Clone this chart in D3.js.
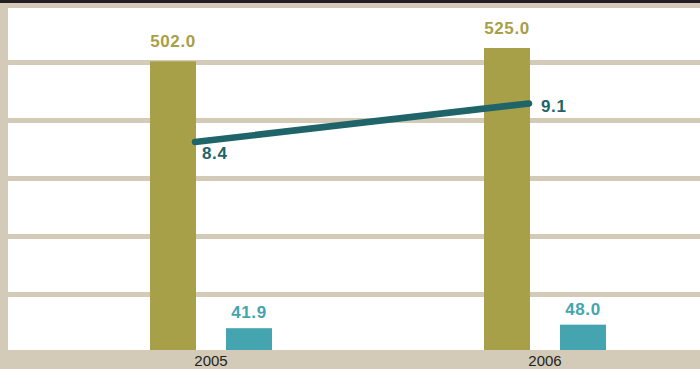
<!DOCTYPE html>
<html><head><meta charset="utf-8">
<script src="https://cdn.jsdelivr.net/npm/d3@7/dist/d3.min.js"></script>
<style>html,body{margin:0;padding:0;background:#d3cab7;}svg{display:block;}</style>
</head><body>
<script>
const years = ["2005", "2006"];
const seriesA = [502.0, 525.0];   // olive bars
const seriesB = [41.9, 48.0];     // teal bars
const lineValues = [8.4, 9.1];    // dark teal line (secondary scale)
const gridTicks = [100, 200, 300, 400, 500];

const W = 700, H = 369;
const plot = {left: 8, right: 700, top: 8, bottom: 350};
const svg = d3.select("body").append("svg").attr("width", W).attr("height", H);

svg.append("rect").attr("width", W).attr("height", H).attr("fill", "#d3cab7");
svg.append("rect").attr("x", plot.left).attr("y", plot.top)
  .attr("width", plot.right - plot.left).attr("height", plot.bottom - plot.top).attr("fill", "#ffffff");

const y = d3.scaleLinear().domain([0, 600]).range([352.5, 4.5]);
const y2 = d3.scaleLinear().domain([4.57, 10.9]).range([352.5, 4.5]);
const x = d3.scalePoint().domain(years).range([211, 545]);
const xs = d3.scaleBand().domain(["a", "b"]).range([-61, 61]).paddingInner(0.3947);

// gridlines
svg.append("g").selectAll("line").data(gridTicks).join("line")
  .attr("x1", plot.left).attr("x2", plot.right)
  .attr("y1", d => y(d)).attr("y2", d => y(d))
  .attr("stroke", "#d3cab7").attr("stroke-width", 5);

const bw = xs.bandwidth();
const gBars = svg.append("g");
const labelFont = "bold 17px 'Liberation Sans', Arial, sans-serif";
years.forEach((yr, i) => {
  const cx = x(yr);
  gBars.append("rect").attr("x", cx + xs("a")).attr("width", bw)
    .attr("y", y(seriesA[i])).attr("height", plot.bottom - y(seriesA[i])).attr("fill", "#a8a049");
  gBars.append("rect").attr("x", cx + xs("b")).attr("width", bw)
    .attr("y", y(seriesB[i])).attr("height", plot.bottom - y(seriesB[i])).attr("fill", "#44a5b0");
  gBars.append("text").attr("x", cx + xs("a") + bw / 2).attr("y", y(seriesA[i]) - 14.5)
    .attr("text-anchor", "middle").attr("fill", "#a8a049")
    .style("font", labelFont).style("letter-spacing", "0.6px")
    .text(seriesA[i].toFixed(1));
  gBars.append("text").attr("x", cx + xs("b") + bw / 2).attr("y", y(seriesB[i]) - 10)
    .attr("text-anchor", "middle").attr("fill", "#44a5b0")
    .style("font", labelFont).style("letter-spacing", "0.6px")
    .text(seriesB[i].toFixed(1));
});

// line
const lx = (yr) => x(yr) + xs("a") + bw - 1;
svg.append("path")
  .datum(years.map((yr, i) => [lx(yr), y2(lineValues[i])]))
  .attr("d", d3.line())
  .attr("fill", "none").attr("stroke", "#1f6469").attr("stroke-width", 6.5).attr("stroke-linecap", "round");

svg.append("text").attr("x", lx(years[0]) + 7).attr("y", y2(lineValues[0]) + 17)
  .attr("fill", "#1f6469").style("font", labelFont).style("letter-spacing", "0.6px")
  .text(lineValues[0].toFixed(1));
svg.append("text").attr("x", lx(years[1]) + 12).attr("y", y2(lineValues[1]) + 8.5)
  .attr("fill", "#1f6469").style("font", labelFont).style("letter-spacing", "0.6px")
  .text(lineValues[1].toFixed(1));

// x axis labels
svg.append("g").selectAll("text").data(years).join("text")
  .attr("x", d => x(d)).attr("y", 366).attr("text-anchor", "middle")
  .attr("fill", "#231f20").style("font", "15px 'Liberation Sans', Arial, sans-serif")
  .text(d => d);

// top dark band
svg.append("rect").attr("x", 0).attr("y", 0).attr("width", W).attr("height", 3).attr("fill", "#231f20");
</script>
</body></html>
